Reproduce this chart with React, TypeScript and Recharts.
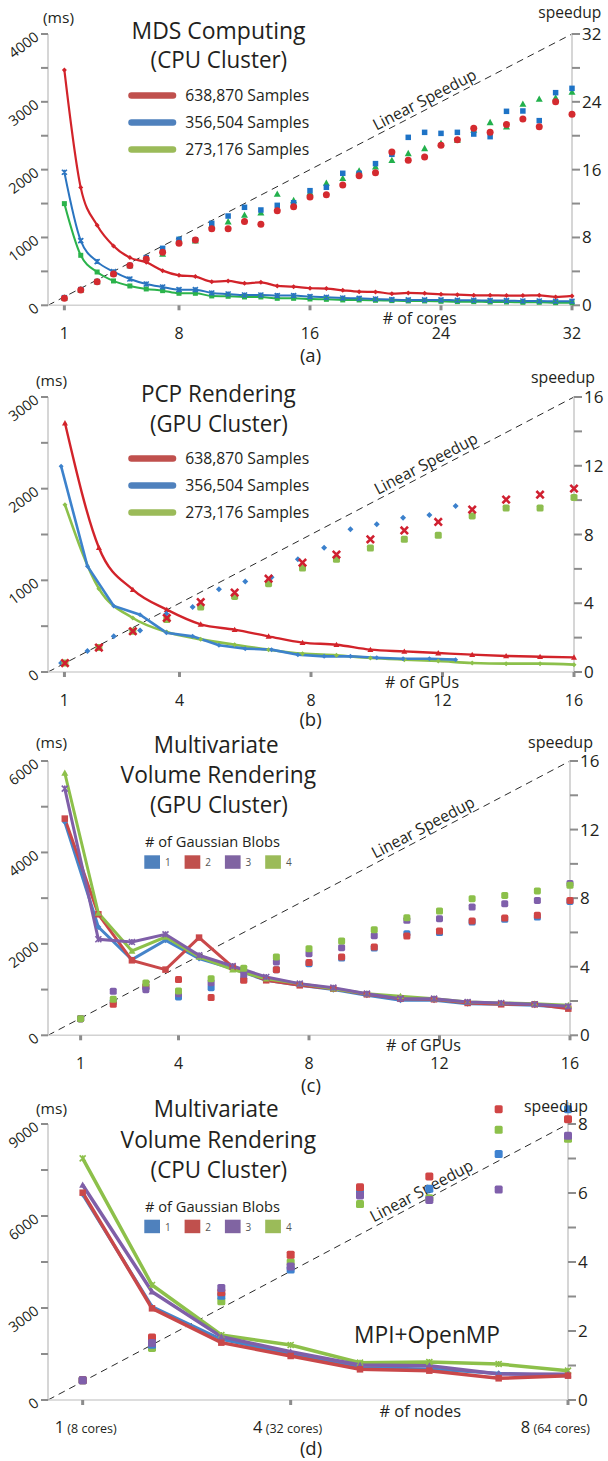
import React from 'react';
import { ComposedChart, Line, Scatter, XAxis, YAxis, ReferenceLine } from 'recharts';

const FONT = '"Open Sans", "Noto Sans", sans-serif';
const TXT = '#231f20';
const AXIS = '#d2d2d2';
const TICK = '#8c8c8c';

// ---------- Panel (a): MDS Computing (CPU Cluster) ----------
const coresA = [1, 2, 3, 4, 5, 6, 7, 8, 9, 10, 11, 12, 13, 14, 15, 16, 17, 18, 19, 20, 21, 22, 23, 24, 25, 26, 27, 28, 29, 30, 31, 32];
const timeRedA = [3469, 1735, 1179, 875, 703, 634, 511, 442, 423, 349, 359, 324, 339, 285, 275, 251, 246, 221, 201, 197, 172, 182, 177, 162, 157, 147, 147, 143, 143, 147, 123, 138];
const timeBlueA = [1961, 953, 644, 496, 388, 314, 270, 231, 231, 182, 167, 152, 152, 143, 143, 128, 118, 108, 103, 93, 84, 79, 79, 79, 74, 74, 69, 69, 64, 64, 59, 59];
const timeGreenA = [1499, 737, 491, 359, 285, 241, 216, 177, 177, 138, 133, 123, 123, 103, 103, 93, 88, 79, 79, 74, 69, 64, 64, 59, 54, 54, 49, 49, 44, 44, 39, 39];
const spRedA = [0.83, 1.81, 2.79, 3.69, 4.68, 5.45, 6.25, 7.31, 7.7, 9.04, 9.04, 9.87, 9.55, 11.16, 11.63, 12.78, 13.05, 14.19, 15.29, 15.64, 18.08, 17.1, 17.49, 18.87, 19.54, 20.87, 20.4, 21.34, 21.97, 21.07, 24.02, 22.52];
const spBlueA = [0.9, 1.85, 2.8, 3.75, 4.7, 5.62, 6.72, 7.78, 7.7, 9.67, 10.53, 11.56, 11.24, 11.79, 12.1, 13.52, 13.92, 15.57, 15.57, 16.71, 17.81, 19.81, 20.4, 20.28, 20.4, 20.2, 19.89, 22.88, 22.92, 21.78, 25.08, 25.59];
const spGreenA = [0.9, 1.85, 2.8, 3.75, 4.7, 5.6, 6.05, 7.78, 7.63, 9.47, 9.87, 10.65, 10.93, 13.13, 12.38, 13.29, 14.43, 14.98, 15.88, 16.35, 17.1, 17.92, 18.51, 19.1, 19.5, 20.68, 21.58, 21.07, 23.74, 24.33, 24.49, 25.16];
const linearXA = [0, 32];
const linearYA = [0, 32];
const xTicksA = [1, 8, 16, 24, 32];
const xLabelsA = ['1', '8', '16', '24', '32'];
const leftTicksA = [0, 500, 1000, 1500, 2000, 2500, 3000, 3500, 4000];
const leftLabelsA = [0, 1000, 2000, 3000, 4000];
const rightTicksA = [0, 4, 8, 12, 16, 20, 24, 28, 32];
const rightLabelsA = [0, 8, 16, 24, 32];
const legendA = ['638,870 Samples', '356,504 Samples', '273,176 Samples'];

// ---------- Panel (b): PCP Rendering (GPU Cluster) ----------
const gpusB = [1, 2, 3, 4, 5, 6, 7, 8, 9, 10, 11, 12, 13, 14, 15, 16];
const timeRedB = [2716, 1356, 898, 680, 520, 462, 389, 320, 298, 244, 225, 207, 189, 175, 167, 160];
const timeBlueB = [2244, 1153, 720, 625, 429, 389, 291, 255, 244, 189, 171, 171, 156, 145, 145, 135];
const timeGreenB = [1825, 909, 589, 436, 356, 298, 244, 200, 182, 153, 135, 120, 98, 91, 91, 80];
const spRedB = [0.52, 1.42, 2.37, 3.14, 4.07, 4.62, 5.43, 6.36, 6.83, 7.72, 8.24, 8.73, 9.45, 10.03, 10.32, 10.67];
const spBlueB = [0.52, 1.22, 2.08, 2.42, 3.39, 3.78, 4.81, 5.26, 5.51, 6.56, 7.23, 8.3, 8.59, 8.98, 9.14, 9.66];
const spGreenB = [0.52, 1.42, 2.37, 3.05, 3.78, 4.4, 5.14, 6.05, 6.56, 7.21, 7.72, 7.95, 9.08, 9.54, 9.54, 10.16];
const linearXB = [0, 16];
const linearYB = [0, 16];
const xTicksB = [0.5, 4, 8, 12, 16];
const xLabelsB = ['1', '4', '8', '12', '16'];
const leftTicksB = [0, 500, 1000, 1500, 2000, 2500, 3000];
const leftLabelsB = [0, 1000, 2000, 3000];
const rightTicksB = [0, 2, 4, 6, 8, 10, 12, 14, 16];
const rightLabelsB = [0, 4, 8, 12, 16];

// ---------- Panel (c): Multivariate Volume Rendering (GPU Cluster) ----------
const gpusC = [1, 2, 3, 4, 5, 6, 7, 8, 9, 10, 11, 12, 13, 14, 15, 16];
const timeBlueC = [4665, 2369, 1656, 2078, 1678, 1458, 1203, 1093, 999, 875, 765, 765, 692, 678, 656, 605];
const timeRedC = [4740, 2647, 1640, 1437, 2137, 1494, 1203, 1093, 1020, 896, 802, 787, 707, 678, 678, 583];
const timePurpleC = [5396, 2100, 2041, 2209, 1750, 1516, 1276, 1130, 1042, 911, 802, 802, 729, 707, 678, 634];
const timeGreenC = [5737, 2675, 1844, 2150, 1713, 1436, 1239, 1130, 1020, 911, 853, 802, 729, 707, 692, 656];
const spBlueC = [0.97, 1.94, 2.8, 2.24, 2.78, 3.25, 3.83, 4.18, 4.51, 5.09, 5.93, 5.99, 6.61, 6.77, 6.9, 7.81];
const spRedC = [0.97, 1.81, 2.86, 3.25, 2.2, 3.21, 3.83, 4.24, 4.57, 5.15, 5.79, 6.08, 6.67, 6.84, 7.0, 7.87];
const spPurpleC = [0.97, 2.57, 2.66, 2.43, 3.07, 3.56, 4.28, 4.76, 5.11, 5.81, 6.71, 6.8, 7.48, 7.68, 7.87, 8.85];
const spGreenC = [0.97, 2.1, 3.05, 2.59, 3.3, 3.91, 4.57, 5.05, 5.5, 6.16, 6.86, 7.25, 7.97, 8.16, 8.42, 8.75];
const linearXC = [0, 16];
const linearYC = [0, 16];
const xTicksC = [1, 4, 8, 12, 16];
const xLabelsC = ['1', '4', '8', '12', '16'];
const leftTicksC = [0, 1000, 2000, 3000, 4000, 5000, 6000];
const leftLabelsC = [0, 2000, 4000, 6000];
const rightTicksC = [0, 2, 4, 6, 8, 10, 12, 14, 16];
const rightLabelsC = [0, 4, 8, 12, 16];
const blobLabels = ['1', '2', '3', '4'];

// ---------- Panel (d): Multivariate Volume Rendering (CPU Cluster) ----------
const nodesD = [1, 2, 3, 4, 5, 6, 7, 8];
const timeBlueD = [6700, 3043, 1978, 1500, 1054, 1011, 870, 783];
const timeRedD = [6760, 2989, 1870, 1435, 1000, 957, 707, 793];
const timePurpleD = [7010, 3533, 2065, 1576, 1141, 1120, 848, 837];
const timeGreenD = [7880, 3750, 2120, 1793, 1217, 1239, 1174, 957];
const spBlueD = [0.57, 1.6, 3.02, 3.78, 6.0, 6.12, 7.13, 8.43];
const spRedD = [0.57, 1.81, 3.12, 4.21, 6.17, 6.48, 8.43, 8.14];
const spPurpleD = [0.57, 1.65, 3.25, 3.87, 5.93, 5.8, 6.1, 7.66];
const spGreenD = [0.57, 1.51, 2.86, 3.99, 5.68, 5.85, 7.83, 7.57];
const linearXD = [0.5, 8];
const linearYD = [0, 8];
const xTicksD = [1, 4, 8];
const xLabelsD = [['1', ' (8 cores)'], ['4', ' (32 cores)'], ['8', ' (64 cores)']];
const leftTicksD = [0, 1500, 3000, 4500, 6000, 7500, 9000];
const leftLabelsD = [0, 3000, 6000, 9000];
const rightTicksD = [0, 1, 2, 3, 4, 5, 6, 7, 8];
const rightLabelsD = [0, 2, 4, 6, 8];

const pts = (xs: number[], ys: number[]) => xs.map((x, i) => ({ x, y: ys[i] }));

type Kind = 'circle' | 'square' | 'rsquare' | 'diamond' | 'triangle' | 'x' | 'star';

function Marker({ kind, cx, cy, s, color }: { kind: Kind; cx: number; cy: number; s: number; color: string }) {
  if (cx == null || cy == null || isNaN(cx) || isNaN(cy)) return <g />;
  const h = s / 2;
  switch (kind) {
    case 'circle':
      return <circle cx={cx} cy={cy} r={h} fill={color} />;
    case 'square':
      return <rect x={cx - h} y={cy - h} width={s} height={s} fill={color} />;
    case 'rsquare':
      return <rect x={cx - h} y={cy - h} width={s} height={s} rx={1.6} fill={color} />;
    case 'diamond':
      return <polygon points={`${cx},${cy - h} ${cx + h},${cy} ${cx},${cy + h} ${cx - h},${cy}`} fill={color} />;
    case 'triangle':
      return <polygon points={`${cx},${cy - h} ${cx + h},${cy + h * 0.8} ${cx - h},${cy + h * 0.8}`} fill={color} />;
    case 'x':
      return (
        <path d={`M${cx - h},${cy - h}L${cx + h},${cy + h}M${cx + h},${cy - h}L${cx - h},${cy + h}`} stroke={color} strokeWidth={2.6} strokeLinecap="square" />
      );
    case 'star':
    default:
      return (
        <path d={`M${cx - h},${cy - h}L${cx + h},${cy + h}M${cx + h},${cy - h}L${cx - h},${cy + h}M${cx},${cy - h}L${cx},${cy + h}`} stroke={color} strokeWidth={1.6} />
      );
  }
}

type Series = {
  data: { x: number; y: number }[];
  color: string;
  kind: Kind;
  size: number;
  xAxisId: string;
  width?: number;
  curve?: 'monotone' | 'linear';
};

type PanelCfg = {
  plotTop: number;
  plotBottom: number;
  plotRight: number;
  xDomain: [number, number];
  xTicks: number[];
  xTick: (p: any, baseY: number) => React.ReactElement;
  hidden: { id: string; domain: [number, number] }[];
  leftDomain: [number, number];
  leftTicks: number[];
  leftLabels: number[];
  leftAxisTo?: number;
  rightDomain: [number, number];
  rightTicks: number[];
  rightLabels: number[];
  linear: { x: number; y: number }[];
  lines: Series[];
  scatters: Series[];
};

const LeftTick = (p: any) => {
  const { x, y, payload, labels } = p;
  if (!labels.includes(payload.value)) return <g />;
  const ax = x - 1;
  const ay = y + 5;
  return (
    <text x={ax} y={ay} transform={`rotate(-37 ${ax} ${ay})`} textAnchor="end" fontSize={14.5} fill={TXT} fontFamily={FONT}>
      {payload.value}
    </text>
  );
};

const RightTick = (p: any) => {
  const { x, y, payload, labels } = p;
  if (!labels.includes(payload.value)) return <g />;
  return (
    <text x={x} y={y + 6} textAnchor="start" fontSize={17} fill={TXT} fontFamily={FONT}>
      {payload.value}
    </text>
  );
};

const makeXTick = (ticks: number[], labels: string[]) => (p: any, baseY: number) => {
  const { x, payload } = p;
  const i = ticks.indexOf(payload.value);
  if (i < 0) return <g />;
  return (
    <text x={x} y={baseY} textAnchor="middle" fontSize={16} fill={TXT} fontFamily={FONT}>
      {labels[i]}
    </text>
  );
};

const xTickD = (p: any, baseY: number) => {
  const { x, payload } = p;
  const i = xTicksD.indexOf(payload.value);
  if (i < 0) return <g />;
  const last = i === xTicksD.length - 1;
  return (
    <text x={last ? x + 22 : x + (i === 0 ? 3 : -3)} y={baseY - 1} textAnchor={last ? 'end' : 'middle'} fill={TXT} fontFamily={FONT}>
      <tspan fontSize={16.5}>{xLabelsD[i][0]}</tspan>
      <tspan fontSize={12.5}>{xLabelsD[i][1]}</tspan>
    </text>
  );
};

const linearLabel = (off: number) => (props: any) => {
  const vb = props.viewBox || {};
  const { x = 0, y = 0, width = 0, height = 0 } = vb;
  const f = 0.727;
  const a = Math.atan2(-height, width);
  const px = x + width * f;
  const py = y + height * (1 - f);
  const bx = px + off * Math.sin(a);
  const by = py - off * Math.cos(a);
  return (
    <text x={bx} y={by} transform={`rotate(${(a * 180) / Math.PI} ${bx} ${by})`} textAnchor="middle" fontSize={16} textLength={114} lengthAdjust="spacingAndGlyphs" fill={TXT} fontFamily={FONT}>
      Linear Speedup
    </text>
  );
};

function Panel({ cfg }: { cfg: PanelCfg }) {
  const chartTop = cfg.plotTop - 10;
  const plotH = cfg.plotBottom - cfg.plotTop;
  const h = plotH + 50;
  const baseY = 10 + plotH + 34;
  return (
    <div style={{ position: 'absolute', left: 0, top: chartTop, width: 608, height: h }}>
      <ComposedChart width={608} height={h} margin={{ top: 10, right: 0, bottom: 0, left: 0 }} style={{ overflow: 'visible' }}>
        <XAxis
          xAxisId="x"
          type="number"
          dataKey="x"
          domain={cfg.xDomain}
          ticks={cfg.xTicks}
          interval={0}
          height={40}
          tickSize={5}
          tickMargin={0}
          axisLine={{ stroke: AXIS, strokeWidth: 1.5 }}
          tickLine={{ stroke: TICK, strokeWidth: 3 }}
          tick={(p: any) => cfg.xTick(p, baseY)}
        />
        {cfg.hidden.map((a) => (
          <XAxis key={a.id} xAxisId={a.id} type="number" dataKey="x" domain={a.domain} height={0} hide />
        ))}
        <YAxis
          yAxisId="L"
          orientation="left"
          width={48}
          type="number"
          domain={cfg.leftDomain}
          ticks={cfg.leftTicks}
          interval={0}
          tickSize={7}
          tickMargin={0}
          axisLine={cfg.leftAxisTo ? false : { stroke: AXIS, strokeWidth: 1.8 }}
          tickLine={{ stroke: TICK, strokeWidth: 2 }}
          tick={(p: any) => <LeftTick {...p} labels={cfg.leftLabels} />}
        />
        <YAxis
          yAxisId="R"
          orientation="right"
          width={608 - cfg.plotRight}
          type="number"
          domain={cfg.rightDomain}
          ticks={cfg.rightTicks}
          interval={0}
          tickSize={8}
          tickMargin={2}
          axisLine={{ stroke: AXIS, strokeWidth: 1.8 }}
          tickLine={{ stroke: TICK, strokeWidth: 2 }}
          tick={(p: any) => <RightTick {...p} labels={cfg.rightLabels} />}
        />
        {cfg.leftAxisTo ? (
          <ReferenceLine
            xAxisId="x"
            yAxisId="L"
            segment={[
              { x: cfg.xDomain[0], y: 0 },
              { x: cfg.xDomain[0], y: cfg.leftAxisTo },
            ]}
            stroke={AXIS}
            strokeWidth={1.8}
            ifOverflow="visible"
          />
        ) : null}
        <Line
          xAxisId="x"
          yAxisId="R"
          data={cfg.linear}
          dataKey="y"
          type="linear"
          stroke="#2a2a2a"
          strokeWidth={1}
          strokeDasharray="7 5"
          dot={false}
          activeDot={false}
          isAnimationActive={false}
        />
        <ReferenceLine
          xAxisId="x"
          yAxisId="R"
          segment={[cfg.linear[0], cfg.linear[1]]}
          stroke="none"
          ifOverflow="visible"
          label={linearLabel(4)}
        />
        {cfg.lines.map((s, i) => (
          <Line
            key={'l' + i}
            xAxisId={s.xAxisId}
            yAxisId="L"
            data={s.data}
            dataKey="y"
            type={s.curve || 'linear'}
            stroke={s.color}
            strokeWidth={s.width || 2}
            isAnimationActive={false}
            activeDot={false}
            dot={(p: any) => <Marker key={'d' + i + '-' + p.index} kind={s.kind} cx={p.cx} cy={p.cy} s={s.size} color={s.color} />}
          />
        ))}
        {cfg.scatters.map((s, i) => (
          <Scatter
            key={'s' + i}
            xAxisId={s.xAxisId}
            yAxisId="R"
            data={s.data}
            dataKey="y"
            fill={s.color}
            isAnimationActive={false}
            shape={(p: any) => <Marker kind={s.kind} cx={p.cx} cy={p.cy} s={s.size} color={s.color} />}
          />
        ))}
      </ComposedChart>
    </div>
  );
}

// colours
const RED = '#d2232a';
const BLUE = '#2a74c0';
const GREEN = '#2bb34b';
const LRED = '#c0504d';
const LBLUE = '#4f81bd';
const LGREEN = '#9bbb59';
const LPURPLE = '#8064a2';
const B_BLUE = '#3d82cc';
const B_GREEN = '#8cc04b';
const C_BLUE = '#4684c9';
const C_RED = '#c9484a';
const C_PURPLE = '#7f5fa8';
const C_GREEN = '#8dc04a';

const cfgA: PanelCfg = {
  plotTop: 34,
  plotBottom: 305.3,
  plotRight: 572,
  xDomain: [0, 32],
  xTicks: xTicksA,
  xTick: makeXTick(xTicksA, xLabelsA),
  hidden: [],
  leftDomain: [0, 4000],
  leftTicks: leftTicksA,
  leftLabels: leftLabelsA,
  rightDomain: [0, 32],
  rightTicks: rightTicksA,
  rightLabels: rightLabelsA,
  linear: pts(linearXA, linearYA),
  lines: [
    { data: pts(coresA, timeGreenA), color: GREEN, kind: 'square', size: 5, xAxisId: 'x', width: 2, curve: 'monotone' },
    { data: pts(coresA, timeBlueA), color: BLUE, kind: 'star', size: 5, xAxisId: 'x', width: 2, curve: 'monotone' },
    { data: pts(coresA, timeRedA), color: RED, kind: 'diamond', size: 5, xAxisId: 'x', width: 2.2, curve: 'monotone' },
  ],
  scatters: [
    { data: pts(coresA, spGreenA), color: '#22b04c', kind: 'triangle', size: 7, xAxisId: 'x' },
    { data: pts(coresA, spBlueA), color: '#1e73c6', kind: 'square', size: 5.5, xAxisId: 'x' },
    { data: pts(coresA, spRedA), color: '#d42a2f', kind: 'circle', size: 7, xAxisId: 'x' },
  ],
};

const cfgB: PanelCfg = {
  plotTop: 396.7,
  plotBottom: 671.7,
  plotRight: 574,
  xDomain: [0, 16],
  xTicks: xTicksB,
  xTick: makeXTick(xTicksB, xLabelsB),
  hidden: [
    { id: 'rg', domain: [0.5, 16] },
    { id: 'bl', domain: [0.5, 20.5] },
  ],
  leftDomain: [0, 3000],
  leftTicks: leftTicksB,
  leftLabels: leftLabelsB,
  rightDomain: [0, 16],
  rightTicks: rightTicksB,
  rightLabels: rightLabelsB,
  linear: pts(linearXB, linearYB),
  lines: [
    { data: pts(gpusB, timeGreenB), color: B_GREEN, kind: 'diamond', size: 5, xAxisId: 'rg', width: 2.6, curve: 'monotone' },
    { data: pts(gpusB, timeBlueB), color: B_BLUE, kind: 'diamond', size: 5, xAxisId: 'bl', width: 2.6, curve: 'linear' },
    { data: pts(gpusB, timeRedB), color: RED, kind: 'triangle', size: 6, xAxisId: 'rg', width: 2.4, curve: 'monotone' },
  ],
  scatters: [
    { data: pts(gpusB, spBlueB), color: '#3b80cc', kind: 'diamond', size: 6, xAxisId: 'bl' },
    { data: pts(gpusB, spGreenB), color: '#8dbd4f', kind: 'rsquare', size: 7, xAxisId: 'rg' },
    { data: pts(gpusB, spRedB), color: '#d02030', kind: 'x', size: 5.5, xAxisId: 'rg' },
  ],
};

const cfgC: PanelCfg = {
  plotTop: 760.7,
  plotBottom: 1035,
  plotRight: 570,
  xDomain: [0, 16],
  xTicks: xTicksC,
  xTick: makeXTick(xTicksC, xLabelsC),
  hidden: [{ id: 't', domain: [0.5, 16.05] }],
  leftDomain: [0, 6000],
  leftTicks: leftTicksC,
  leftLabels: leftLabelsC,
  rightDomain: [0, 16],
  rightTicks: rightTicksC,
  rightLabels: rightLabelsC,
  linear: pts(linearXC, linearYC),
  lines: [
    { data: pts(gpusC, timeBlueC), color: C_BLUE, kind: 'diamond', size: 6, xAxisId: 't', width: 3 },
    { data: pts(gpusC, timeRedC), color: C_RED, kind: 'square', size: 6.5, xAxisId: 't', width: 3 },
    { data: pts(gpusC, timeGreenC), color: C_GREEN, kind: 'triangle', size: 7, xAxisId: 't', width: 3 },
    { data: pts(gpusC, timePurpleC), color: C_PURPLE, kind: 'star', size: 6, xAxisId: 't', width: 3 },
  ],
  scatters: [
    { data: pts(gpusC, spBlueC), color: '#3e82d0', kind: 'rsquare', size: 7, xAxisId: 'x' },
    { data: pts(gpusC, spRedC), color: '#d04545', kind: 'rsquare', size: 7, xAxisId: 'x' },
    { data: pts(gpusC, spPurpleC), color: '#7f5fab', kind: 'rsquare', size: 7, xAxisId: 'x' },
    { data: pts(gpusC, spGreenC), color: '#8cc04a', kind: 'rsquare', size: 7, xAxisId: 'x' },
  ],
};

const cfgD: PanelCfg = {
  plotTop: 1102,
  plotBottom: 1400,
  plotRight: 568,
  xDomain: [0.5, 8],
  xTicks: xTicksD,
  xTick: xTickD,
  hidden: [],
  leftDomain: [0, 9717],
  leftTicks: leftTicksD,
  leftLabels: leftLabelsD,
  leftAxisTo: 9000,
  rightDomain: [0, 8.638],
  rightTicks: rightTicksD,
  rightLabels: rightLabelsD,
  linear: pts(linearXD, linearYD),
  lines: [
    { data: pts(nodesD, timeBlueD), color: C_BLUE, kind: 'diamond', size: 6, xAxisId: 'x', width: 3.2 },
    { data: pts(nodesD, timeGreenD), color: C_GREEN, kind: 'star', size: 6, xAxisId: 'x', width: 3.5 },
    { data: pts(nodesD, timePurpleD), color: C_PURPLE, kind: 'triangle', size: 7, xAxisId: 'x', width: 3.5 },
    { data: pts(nodesD, timeRedD), color: C_RED, kind: 'square', size: 6.5, xAxisId: 'x', width: 3.5 },
  ],
  scatters: [
    { data: pts(nodesD, spGreenD), color: '#8cc04a', kind: 'rsquare', size: 8, xAxisId: 'x' },
    { data: pts(nodesD, spBlueD), color: '#3e82d0', kind: 'rsquare', size: 8, xAxisId: 'x' },
    { data: pts(nodesD, spRedD), color: '#d04545', kind: 'rsquare', size: 8, xAxisId: 'x' },
    { data: pts(nodesD, spPurpleD), color: '#7f5fab', kind: 'rsquare', size: 8, xAxisId: 'x' },
  ],
};

const T = (p: {
  x: number;
  y: number;
  s: number;
  anchor?: 'start' | 'middle' | 'end';
  len?: number;
  color?: string;
  children: React.ReactNode;
}) => (
  <text
    x={p.x}
    y={p.y}
    fontSize={p.s}
    textAnchor={p.anchor || 'start'}
    fill={p.color || TXT}
    fontFamily={FONT}
    {...(p.len ? { textLength: p.len, lengthAdjust: 'spacingAndGlyphs' } : {})}
  >
    {p.children}
  </text>
);

function SampleLegend({ top }: { top: number }) {
  const cols = [LRED, LBLUE, LGREEN];
  return (
    <g>
      {legendA.map((t, i) => (
        <g key={t}>
          <line x1={131.5} x2={173} y1={top + i * 27 - 5.5} y2={top + i * 27 - 5.5} stroke={cols[i]} strokeWidth={6.5} strokeLinecap="round" />
          <T x={185.2} y={top + i * 27} s={15.5} len={124}>
            {t}
          </T>
        </g>
      ))}
    </g>
  );
}

function BlobLegend({ top }: { top: number }) {
  const cols = [LBLUE, LRED, LPURPLE, LGREEN];
  return (
    <g>
      <T x={145} y={top} s={14.5} len={135}>
        # of Gaussian Blobs
      </T>
      {blobLabels.map((b, i) => (
        <g key={b}>
          <rect x={144.3 + i * 40.3} y={top + 8} width={15.7} height={13.5} fill={cols[i]} />
          <T x={165 + i * 40.3} y={top + 19} s={10} color="#555">
            {b}
          </T>
        </g>
      ))}
    </g>
  );
}

function Overlay() {
  return (
    <svg width={608} height={1461} style={{ position: 'absolute', left: 0, top: 0, pointerEvents: 'none' }}>
      {/* (a) */}
      <T x={43} y={22.5} s={14} len={31}>(ms)</T>
      <T x={538.3} y={18.3} s={16} len={63}>speedup</T>
      <T x={218.5} y={39.3} s={23} anchor="middle" len={174}>MDS Computing</T>
      <T x={218.9} y={68.3} s={23} anchor="middle" len={136.6}>(CPU Cluster)</T>
      <SampleLegend top={101} />
      <T x={382.7} y={324} s={17} len={74}># of cores</T>
      <T x={310.5} y={362} s={18.5} anchor="middle">(a)</T>

      {/* (b) */}
      <T x={36} y={385.5} s={14} len={31}>(ms)</T>
      <T x={531} y={383.3} s={16} len={64}>speedup</T>
      <T x={218.3} y={402.3} s={23} anchor="middle" len={154.8}>PCP Rendering</T>
      <T x={218.9} y={431.7} s={23} anchor="middle" len={138}>(GPU Cluster)</T>
      <SampleLegend top={464} />
      <T x={385} y={688.3} s={17} len={74}># of GPUs</T>
      <T x={310.5} y={726} s={18.5} anchor="middle">(b)</T>

      {/* (c) */}
      <T x={36} y={748} s={14} len={31}>(ms)</T>
      <T x={528} y={748.3} s={16} len={65}>speedup</T>
      <T x={216.2} y={753.3} s={23} anchor="middle" len={125}>Multivariate</T>
      <T x={218.3} y={783.3} s={23} anchor="middle" len={195.4}>Volume Rendering</T>
      <T x={218.9} y={813.3} s={23} anchor="middle" len={138}>(GPU Cluster)</T>
      <BlobLegend top={847.3} />
      <T x={386} y={1051} s={17} len={75}># of GPUs</T>
      <T x={311} y={1092} s={18.5} anchor="middle">(c)</T>

      {/* (d) */}
      <T x={36} y={1113.5} s={14} len={31}>(ms)</T>
      <T x={524} y={1112.2} s={16} len={64}>speedup</T>
      <T x={216.2} y={1116.7} s={23} anchor="middle" len={125}>Multivariate</T>
      <T x={218.3} y={1148.3} s={23} anchor="middle" len={195.4}>Volume Rendering</T>
      <T x={218.9} y={1178.3} s={23} anchor="middle" len={136.6}>(CPU Cluster)</T>
      <BlobLegend top={1211.7} />
      <T x={427} y={1343.3} s={23} anchor="middle" len={146}>MPI+OpenMP</T>
      <T x={379.4} y={1416.7} s={17} len={81.6}># of nodes</T>
      <T x={311} y={1455} s={18.5} anchor="middle">(d)</T>
    </svg>
  );
}

export default function App() {
  return (
    <div style={{ position: 'absolute', left: 0, top: 0, width: 608, height: 1461, background: '#fff', overflow: 'hidden' }}>
      <Panel cfg={cfgA} />
      <Panel cfg={cfgB} />
      <Panel cfg={cfgC} />
      <Panel cfg={cfgD} />
      <Overlay />
    </div>
  );
}
